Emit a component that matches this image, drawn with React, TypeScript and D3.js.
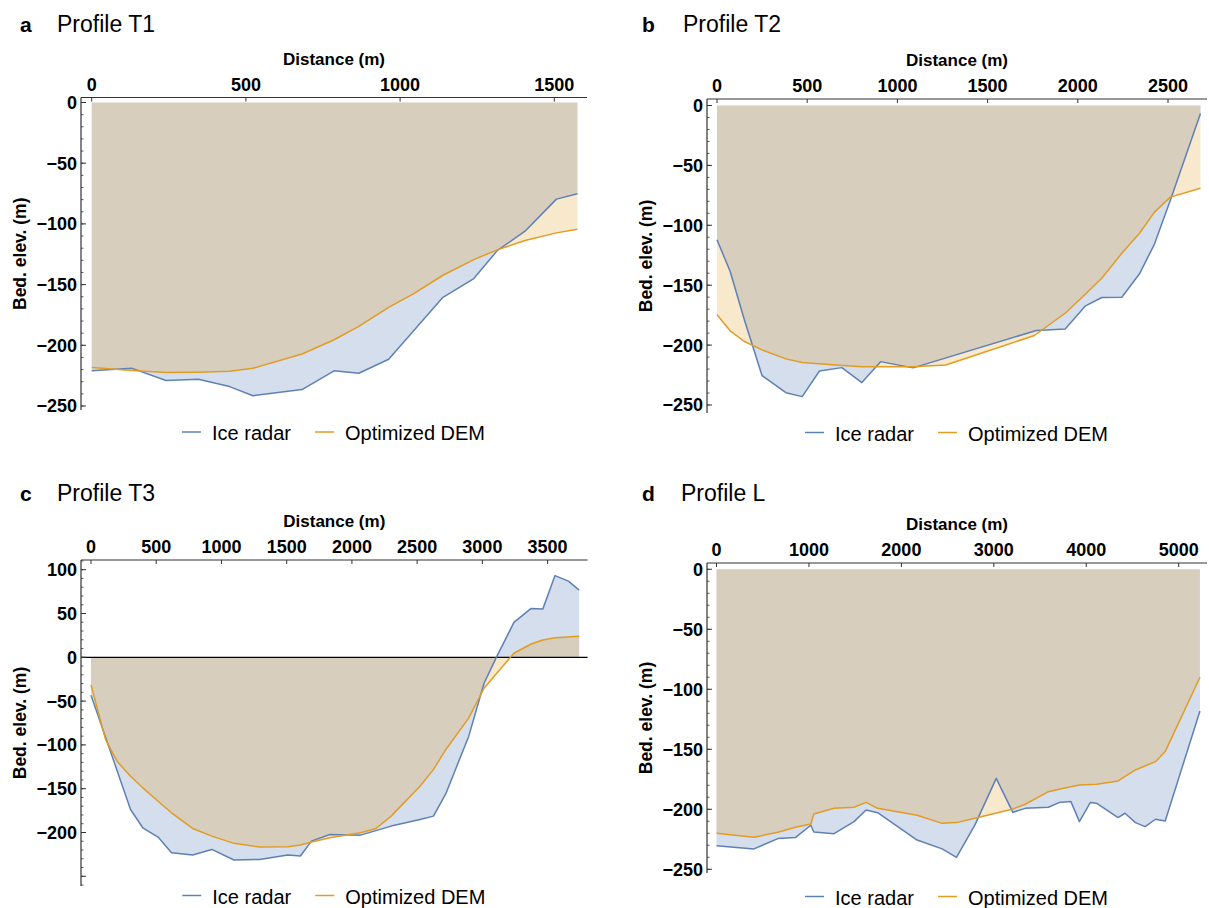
import React from "react";
import * as d3 from "d3";

// ---------- Data ----------
// Profile T1
const t1RadarDist = [0, 131, 241, 346, 447, 523, 682, 786, 866, 963, 1139, 1239, 1315, 1405, 1507, 1575];
const t1RadarElev = [-221, -219, -229, -228, -234, -241.5, -236.5, -221, -223, -211.5, -160.5, -145, -122, -106, -79.6, -75.2];
const t1DemDist = [0, 131, 241, 346, 447, 523, 682, 786, 866, 963, 1043, 1139, 1239, 1315, 1405, 1507, 1575];
const t1DemElev = [-218.3, -220.8, -222.5, -222.2, -221.4, -218.9, -207.2, -195.4, -184.4, -168.7, -157.7, -142.3, -129.4, -121.4, -113.7, -107.4, -104.4];

// Profile T2
const t2RadarDist = [0, 73, 152, 250, 382, 472, 568, 692, 803, 907, 1087, 1770, 1930, 2043, 2133, 2244, 2342, 2425, 2513, 2680];
const t2RadarElev = [-112, -138.5, -179, -225.5, -239.7, -243, -221.6, -218.8, -231.3, -213.8, -219, -187.8, -186.5, -167.2, -160.3, -160, -140.5, -115.7, -79, -6.7];
const t2DemDist = [0, 73, 152, 250, 382, 472, 638, 803, 1087, 1268, 1759, 1930, 2043, 2133, 2244, 2342, 2425, 2513, 2680];
const t2DemElev = [-174.7, -188.1, -197, -204, -211.5, -214.6, -216.5, -218, -218, -216.6, -192, -173.4, -157.3, -144.2, -123.3, -106.6, -89, -76.5, -69];

// Profile T3
const t3RadarDist = [0, 303, 397, 514, 617, 779, 926, 1096, 1293, 1508, 1605, 1690, 1831, 2066, 2301, 2522, 2625, 2719, 2895, 3013, 3110, 3242, 3374, 3463, 3557, 3660, 3742];
const t3RadarElev = [-43.2, -173.7, -194.6, -205.2, -223, -225.7, -219.3, -231.4, -230.7, -225.7, -226.9, -209.8, -202.2, -203, -192.7, -185.1, -181.3, -156, -90.3, -29.6, 0.8, 39.8, 55.8, 55, 93.3, 86.9, 76.6];
const t3DemDist = [0, 112, 200, 303, 397, 514, 617, 779, 926, 1096, 1293, 1508, 1605, 1690, 1831, 2066, 2184, 2301, 2522, 2625, 2719, 2895, 3013, 3110, 3242, 3374, 3463, 3557, 3742];
const t3DemElev = [-31.5, -94, -118.8, -135.8, -149, -164.3, -177.5, -195.4, -204.1, -212.4, -216.6, -216.2, -214.3, -210.9, -206, -200.3, -195.4, -181.3, -147.2, -128.2, -105.5, -69.4, -35.3, -18.2, 4.6, 15.2, 19.7, 22.4, 23.9];

// Profile L
const lRadarDist = [0, 405, 664, 853, 1020, 1053, 1271, 1488, 1618, 1743, 2170, 2441, 2596, 2796, 3026, 3206, 3340, 3591, 3704, 3834, 3926, 4043, 4114, 4344, 4419, 4532, 4637, 4749, 4854, 5230];
const lRadarElev = [-230.3, -233, -224.4, -223.6, -213.3, -218.9, -220.3, -210.3, -200.6, -202.8, -225.6, -233, -240, -213, -174.2, -202.5, -199.2, -198.3, -194.4, -193.6, -210.3, -194.4, -195, -206.9, -203.3, -211.1, -214.4, -208.3, -209.7, -118];
const lDemDist = [0, 405, 664, 853, 1020, 1053, 1271, 1488, 1618, 1743, 2170, 2441, 2596, 2796, 3206, 3340, 3591, 3704, 3926, 4114, 4344, 4532, 4749, 4854, 5230];
const lDemElev = [-220, -223.3, -219.2, -215, -212.2, -203.9, -199.2, -198.3, -194.2, -199.2, -205, -211.7, -211.1, -207.5, -199.7, -195.8, -185.3, -183.3, -179.7, -179.2, -176.4, -167.2, -160.3, -151.9, -90];

// Tick labels
const t1XTicks = [0, 500, 1000, 1500];
const t2XTicks = [0, 500, 1000, 1500, 2000, 2500];
const t3XTicks = [0, 500, 1000, 1500, 2000, 2500, 3000, 3500];
const lXTicks = [0, 1000, 2000, 3000, 4000, 5000];
const negYTicks = [0, -50, -100, -150, -200, -250];
const t3YTicks = [100, 50, 0, -50, -100, -150, -200];

const panelLetters = ["a", "b", "c", "d"];
const panelTitles = ["Profile T1", "Profile T2", "Profile T3", "Profile L"];
const seriesNames = ["Ice radar", "Optimized DEM"];

// ---------- Styles ----------
const FONT = "'Liberation Sans', Arial, Helvetica, sans-serif";
const BLUE = "#5E81B5";
const ORANGE = "#E19C24";
const AXIS = "#333333";

type Layout = {
  axisX: number; topY: number; rightX: number; bottomY: number;
  xDom: [number, number]; xRng: [number, number];
  yDom: [number, number]; yRng: [number, number];
  minorRange: [number, number];
  letterX: number; titleX: number; titleY: number; legY: number;
};

type PanelProps = {
  layout: Layout;
  letter: string;
  title: string;
  xTicks: number[];
  yTicks: number[];
  majorNoLabel?: number[];
  radarX: number[]; radarY: number[];
  demX: number[]; demY: number[];
  zeroLine?: boolean;
};

const fmt = (v: number) => (v < 0 ? "\u2212" + Math.abs(v) : String(v));

function Panel(p: PanelProps) {
  const L = p.layout;
  const x = d3.scaleLinear().domain(L.xDom).range(L.xRng);
  const y = d3.scaleLinear().domain(L.yDom).range(L.yRng);
  const radar = p.radarX.map((d, i) => [d, p.radarY[i]] as [number, number]);
  const dem = p.demX.map((d, i) => [d, p.demY[i]] as [number, number]);
  const area = d3.area<[number, number]>().x((d) => x(d[0])).y0(() => y(0)).y1((d) => y(d[1]));
  const line = d3.line<[number, number]>().x((d) => x(d[0])).y((d) => y(d[1]));

  const minors = d3.range(L.minorRange[0], L.minorRange[1] + 0.1, 10);
  const majors = [...p.yTicks, ...(p.majorNoLabel || [])];
  const cx = (L.axisX + L.rightX) / 2;
  const cy = (L.topY + L.bottomY) / 2;

  // legend
  const legY = L.legY;
  const w1 = 77, w2 = 141;
  const total = 19 + 11 + w1 + 26 + 19 + 11 + w2;
  const lx = cx - total / 2;

  return (
    <g>
      <text x={L.letterX} y={L.titleY} fontFamily={FONT} fontWeight="bold" fontSize={21} fill="#000">{p.letter}</text>
      <text x={L.titleX} y={L.titleY} fontFamily={FONT} fontSize={23} fill="#000">{p.title}</text>

      {/* fills */}
      <path d={area(radar) || ""} fill={BLUE} fillOpacity={0.26} stroke="none" />
      <path d={area(dem) || ""} fill={ORANGE} fillOpacity={0.23} stroke="none" />
      {p.zeroLine && (
        <line x1={L.axisX} x2={L.rightX} y1={y(0)} y2={y(0)} stroke="#000" strokeWidth={1.2} />
      )}
      <path d={line(radar) || ""} fill="none" stroke={BLUE} strokeWidth={1.5} strokeLinejoin="round" />
      <path d={line(dem) || ""} fill="none" stroke={ORANGE} strokeWidth={1.5} strokeLinejoin="round" />

      {/* top axis */}
      <line x1={L.axisX} x2={L.rightX} y1={L.topY} y2={L.topY} stroke={AXIS} strokeWidth={1.2} />
      {p.xTicks.map((t) => (
        <g key={"xt" + t}>
          <line x1={x(t)} x2={x(t)} y1={L.topY} y2={L.topY + 4} stroke={AXIS} strokeWidth={1} />
          <text x={x(t)} y={L.topY - 7} textAnchor="middle" fontFamily={FONT} fontWeight="bold" fontSize={18} fill="#000">{fmt(t)}</text>
        </g>
      ))}
      <text x={cx} y={L.topY - 33} textAnchor="middle" fontFamily={FONT} fontWeight="bold" fontSize={17} fill="#000">Distance (m)</text>

      {/* left axis */}
      <line x1={L.axisX} x2={L.axisX} y1={L.topY} y2={L.bottomY} stroke={AXIS} strokeWidth={1.2} />
      {minors.map((t) => (
        <line key={"mn" + t} x1={L.axisX} x2={L.axisX + 2.5} y1={y(t)} y2={y(t)} stroke={AXIS} strokeWidth={0.8} />
      ))}
      {majors.map((t) => (
        <line key={"mj" + t} x1={L.axisX} x2={L.axisX + 5} y1={y(t)} y2={y(t)} stroke={AXIS} strokeWidth={1} />
      ))}
      {p.yTicks.map((t) => (
        <text key={"yl" + t} x={L.axisX - 4} y={y(t)} dy="0.36em" textAnchor="end" fontFamily={FONT} fontWeight="bold" fontSize={18} fill="#000">{fmt(t)}</text>
      ))}
      <text transform={`translate(${L.axisX - 55},${cy}) rotate(-90)`} textAnchor="middle" fontFamily={FONT} fontWeight="bold" fontSize={17.5} fill="#000">Bed. elev. (m)</text>

      {/* legend */}
      <line x1={lx} x2={lx + 19} y1={legY} y2={legY} stroke={BLUE} strokeWidth={1.5} />
      <text x={lx + 30} y={legY + 8} fontFamily={FONT} fontSize={20} fill="#000">{seriesNames[0]}</text>
      <line x1={lx + 30 + w1 + 26} x2={lx + 30 + w1 + 26 + 19} y1={legY} y2={legY} stroke={ORANGE} strokeWidth={1.5} />
      <text x={lx + 30 + w1 + 26 + 30} y={legY + 8} fontFamily={FONT} fontSize={20} fill="#000">{seriesNames[1]}</text>
    </g>
  );
}

const layouts: Layout[] = [
  { axisX: 81, topY: 97.5, rightX: 587, bottomY: 410, xDom: [0, 1500], xRng: [91.7, 554.3], yDom: [0, -250], yRng: [102.5, 406], minorRange: [-250, 0], letterX: 20, titleX: 57, titleY: 31.5, legY: 432 },
  { axisX: 707, topY: 99, rightX: 1207, bottomY: 413, xDom: [0, 2500], xRng: [717, 1168], yDom: [0, -250], yRng: [105.5, 405], minorRange: [-250, 0], letterX: 642, titleX: 683, titleY: 31.5, legY: 432.5 },
  { axisX: 81, topY: 560, rightX: 587.6, bottomY: 886, xDom: [0, 3500], xRng: [91, 547.6], yDom: [100, -200], yRng: [569.7, 832.5], minorRange: [-260, 110], letterX: 20, titleX: 57, titleY: 501, legY: 895.5 },
  { axisX: 707, topY: 563, rightX: 1207, bottomY: 873, xDom: [0, 5000], xRng: [716.5, 1178.7], yDom: [0, -250], yRng: [569.3, 869.3], minorRange: [-250, 0], letterX: 642, titleX: 681, titleY: 501, legY: 896.5 },
];

export default function App() {
  return (
    <svg width={1209} height={908} style={{ position: "absolute", left: 0, top: 0, background: "#fff" }}>
      <rect x={0} y={0} width={1209} height={908} fill="#fff" />
      <Panel layout={layouts[0]} letter={panelLetters[0]} title={panelTitles[0]} xTicks={t1XTicks} yTicks={negYTicks}
        radarX={t1RadarDist} radarY={t1RadarElev} demX={t1DemDist} demY={t1DemElev} />
      <Panel layout={layouts[1]} letter={panelLetters[1]} title={panelTitles[1]} xTicks={t2XTicks} yTicks={negYTicks}
        radarX={t2RadarDist} radarY={t2RadarElev} demX={t2DemDist} demY={t2DemElev} />
      <Panel layout={layouts[2]} letter={panelLetters[2]} title={panelTitles[2]} xTicks={t3XTicks} yTicks={t3YTicks} majorNoLabel={[-250]}
        radarX={t3RadarDist} radarY={t3RadarElev} demX={t3DemDist} demY={t3DemElev} zeroLine />
      <Panel layout={layouts[3]} letter={panelLetters[3]} title={panelTitles[3]} xTicks={lXTicks} yTicks={negYTicks}
        radarX={lRadarDist} radarY={lRadarElev} demX={lDemDist} demY={lDemElev} />
    </svg>
  );
}
